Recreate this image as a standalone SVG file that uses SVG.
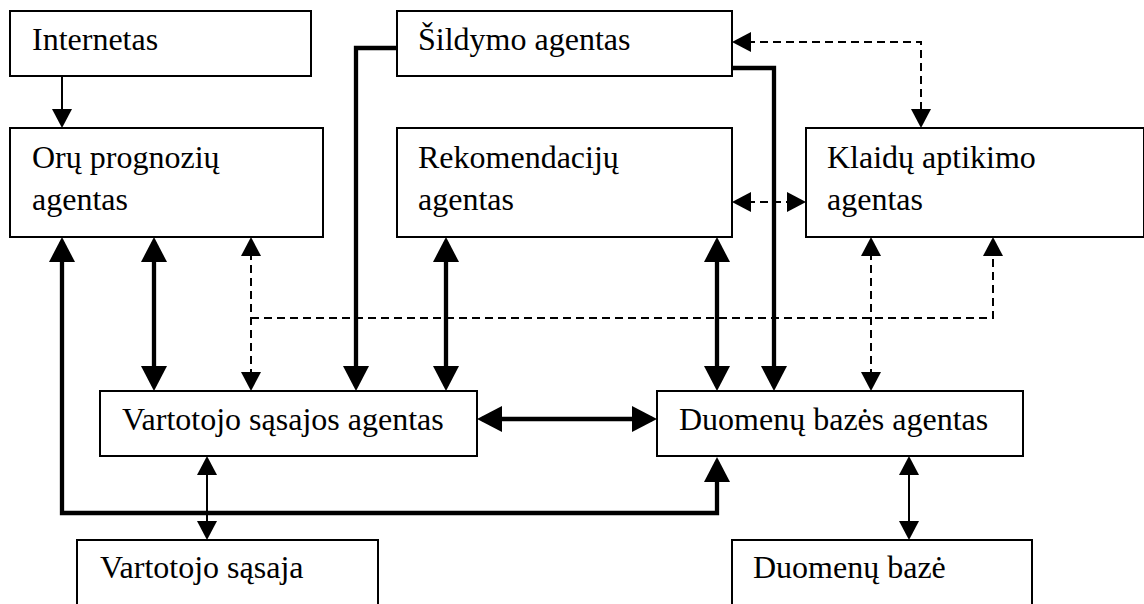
<svg xmlns="http://www.w3.org/2000/svg" width="1144" height="604" viewBox="0 0 1144 604">
  <style>
    .box { fill: #ffffff; stroke: #000000; stroke-width: 2; }
    .lbl { font-family: "Liberation Serif", "Times New Roman", serif; font-size: 32px; fill: #000000; }
    .thick { fill: none; stroke: #000000; stroke-width: 4.3; stroke-linejoin: miter; }
    .thin { fill: none; stroke: #000000; stroke-width: 2; }
    .dash { fill: none; stroke: #000000; stroke-width: 2; stroke-dasharray: 8 5; }
  </style>
  <defs>
    <!-- large filled head for heavy connectors -->
    <marker id="bigArrow" viewBox="0 0 25 26" refX="20" refY="13" markerWidth="25" markerHeight="26" markerUnits="userSpaceOnUse" orient="auto-start-reverse">
      <path d="M0,0 L25,13 L0,26 z" fill="#000000"/>
    </marker>
    <!-- small filled head for thin and dashed connectors -->
    <marker id="smallArrow" viewBox="0 0 19 20" refX="17" refY="10" markerWidth="19" markerHeight="20" markerUnits="userSpaceOnUse" orient="auto-start-reverse">
      <path d="M0,0 L19,10 L0,20 z" fill="#000000"/>
    </marker>
  </defs>

  <rect width="1144" height="604" fill="#ffffff"/>

  <g id="connectors">
    <!-- heavy links -->
    <path class="thick" d="M154,242 V386" marker-start="url(#bigArrow)" marker-end="url(#bigArrow)"/>
    <path class="thick" d="M446,242 V386" marker-start="url(#bigArrow)" marker-end="url(#bigArrow)"/>
    <path class="thick" d="M717,242 V386" marker-start="url(#bigArrow)" marker-end="url(#bigArrow)"/>
    <path class="thick" d="M397,48 H356 V386" marker-end="url(#bigArrow)"/>
    <path class="thick" d="M732,68 H774 V386" marker-end="url(#bigArrow)"/>
    <path class="thick" d="M482,419 H652" marker-start="url(#bigArrow)" marker-end="url(#bigArrow)"/>
    <path class="thick" d="M62,242 V513 H717 V462" marker-start="url(#bigArrow)" marker-end="url(#bigArrow)"/>

    <!-- thin links -->
    <path class="thin" d="M62,76 V126" marker-end="url(#smallArrow)"/>
    <path class="thin" d="M207,458 V538" marker-start="url(#smallArrow)" marker-end="url(#smallArrow)"/>
    <path class="thin" d="M909,458 V538" marker-start="url(#smallArrow)" marker-end="url(#smallArrow)"/>

    <!-- dashed links to the fault detection agent -->
    <path class="dash" d="M251,239 V389" marker-start="url(#smallArrow)" marker-end="url(#smallArrow)"/>
    <path class="dash" d="M251,318 H993 V239" marker-end="url(#smallArrow)"/>
    <path class="dash" d="M871,239 V389" marker-start="url(#smallArrow)" marker-end="url(#smallArrow)"/>
    <path class="dash" d="M734,42 H921 V126" marker-start="url(#smallArrow)" marker-end="url(#smallArrow)"/>
    <path class="dash" d="M734,202 H804" marker-start="url(#smallArrow)" marker-end="url(#smallArrow)"/>
  </g>

  <g id="internetas">
    <rect class="box" x="10" y="11" width="301" height="65"/>
    <text class="lbl" x="32" y="50">Internetas</text>
  </g>
  <g id="sildymo-agentas">
    <rect class="box" x="397" y="11" width="335" height="65"/>
    <text class="lbl" x="418" y="50">Šildymo agentas</text>
  </g>
  <g id="oru-prognoziu-agentas">
    <rect class="box" x="10" y="128" width="313" height="109"/>
    <text class="lbl" x="32" y="168">Orų prognozių</text>
    <text class="lbl" x="32" y="210">agentas</text>
  </g>
  <g id="rekomendaciju-agentas">
    <rect class="box" x="397" y="128" width="335" height="109"/>
    <text class="lbl" x="418" y="168">Rekomendacijų</text>
    <text class="lbl" x="418" y="210">agentas</text>
  </g>
  <g id="klaidu-aptikimo-agentas">
    <rect class="box" x="806" y="128" width="338" height="109"/>
    <text class="lbl" x="827" y="168">Klaidų aptikimo</text>
    <text class="lbl" x="827" y="210">agentas</text>
  </g>
  <g id="vartotojo-sasajos-agentas">
    <rect class="box" x="100" y="391" width="377" height="65"/>
    <text class="lbl" x="122" y="430">Vartotojo sąsajos agentas</text>
  </g>
  <g id="duomenu-bazes-agentas">
    <rect class="box" x="657" y="391" width="366" height="65"/>
    <text class="lbl" x="679" y="430">Duomenų bazės agentas</text>
  </g>
  <g id="vartotojo-sasaja">
    <rect class="box" x="77" y="540" width="301" height="80"/>
    <text class="lbl" x="100" y="578">Vartotojo sąsaja</text>
  </g>
  <g id="duomenu-baze">
    <rect class="box" x="732" y="540" width="300" height="80"/>
    <text class="lbl" x="753" y="578">Duomenų bazė</text>
  </g>
</svg>
